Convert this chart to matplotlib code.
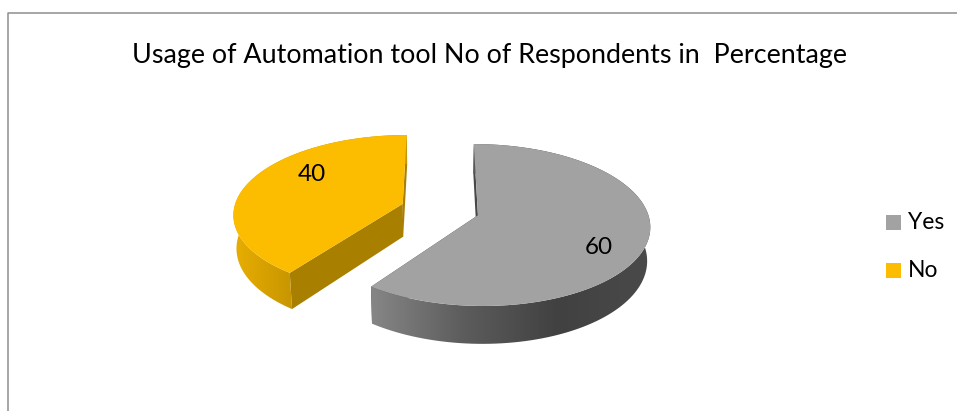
import numpy as np
import matplotlib
matplotlib.use("Agg")
import matplotlib.pyplot as plt
from matplotlib.colors import LinearSegmentedColormap
from matplotlib.patches import Polygon, Rectangle

title = "Usage of Automation tool No of Respondents in  Percentage"
categories = ["Yes", "No"]
values = [60, 40]

# top, inner wall, rim gradient left to right
colors = {
    "Yes": ("#a2a2a2", "#484848", ["#868686", "#5c5c5c", "#414141", "#4a4a4a"]),
    "No": ("#fcbc00", "#a97f00", ["#e8ae00", "#c89600", "#c89600", "#c89600"]),
}
label_pos = {"Yes": (599, 247), "No": (312, 174)}

# perspective of the pie, in pixels of the picture
XC, YC, BX, AY, K = 440, 209.5, 169, 78.4, 0.12
EXPLODE = 0.234
DEPTH = 33
TILT = 0.015
FONT = "Lato"


def project(u, v):
    w = 1 + K * v
    return XC + BX * u / w, YC - AY * v / w, DEPTH / w


def draw_slice(ax, name, start, stop):
    top_col, wall_col, rim_cols = colors[name]
    mid = np.radians((start + stop) / 2)
    cu, cv = EXPLODE * np.sin(mid), EXPLODE * np.cos(mid)
    t = np.radians(np.linspace(start, stop, 120))
    x, y, d = project(cu + np.sin(t), cv + np.cos(t))
    ax_, ay_, ad_ = project(cu, cv)
    # bottom edge leans a little towards the middle
    xb = x + (XC - x) * TILT
    abx = ax_ + (XC - ax_) * TILT

    # flat walls of the cut
    for i in (0, -1):
        wall = [(ax_, ay_), (x[i], y[i]), (xb[i], y[i] + d[i]), (abx, ay_ + ad_)]
        ax.add_patch(Polygon(wall, color=wall_col, lw=0, zorder=2))

    # rim with gradient
    rim = np.column_stack([np.r_[x, xb[::-1]], np.r_[y, (y + d)[::-1]]])
    clip = Polygon(rim, transform=ax.transData, fc="none", ec="none")
    ax.add_patch(clip)
    cmap = LinearSegmentedColormap.from_list(name, rim_cols)
    img = ax.imshow(np.linspace(0, 1, 256)[None, :], cmap=cmap, aspect="auto", zorder=3,
                    extent=(x.min(), x.max(), 400, 100))
    img.set_clip_path(clip)

    face = np.vstack([[ax_, ay_], np.column_stack([x, y])])
    ax.add_patch(Polygon(face, color=top_col, lw=0, zorder=4))


fig = plt.figure(figsize=(9.57, 4.11), dpi=100)
ax = fig.add_axes([0, 0, 1, 1])

total = sum(values)
angle = 0
for name, val in zip(categories, values):
    sweep = 360 * val / total
    draw_slice(ax, name, angle, angle + sweep)
    ax.text(*label_pos[name], str(val), ha="center", va="center", fontsize=17.5,
            family=FONT, color="black", zorder=6)
    angle += sweep

# chart border, clipped by the picture on the right and bottom
ax.plot([8, 8, 957], [411, 13.5, 13.5], color="#8e8e8e", lw=1.1, zorder=1)

ax.text(489.5, 55.5, title, ha="center", va="center", fontsize=19.4, family=FONT, color="black")

# legend
for i, name in enumerate(categories):
    ly = 222.5 + 48 * i
    ax.add_patch(Rectangle((886, ly - 7.5), 15, 15, color=colors[name][0], lw=0))
    ax.text(908, ly, name, ha="left", va="center", fontsize=16.5, family=FONT, color="black")

ax.set_xlim(0, 957)
ax.set_ylim(411, 0)
ax.axis("off")
fig.savefig("out.png", dpi=100)
